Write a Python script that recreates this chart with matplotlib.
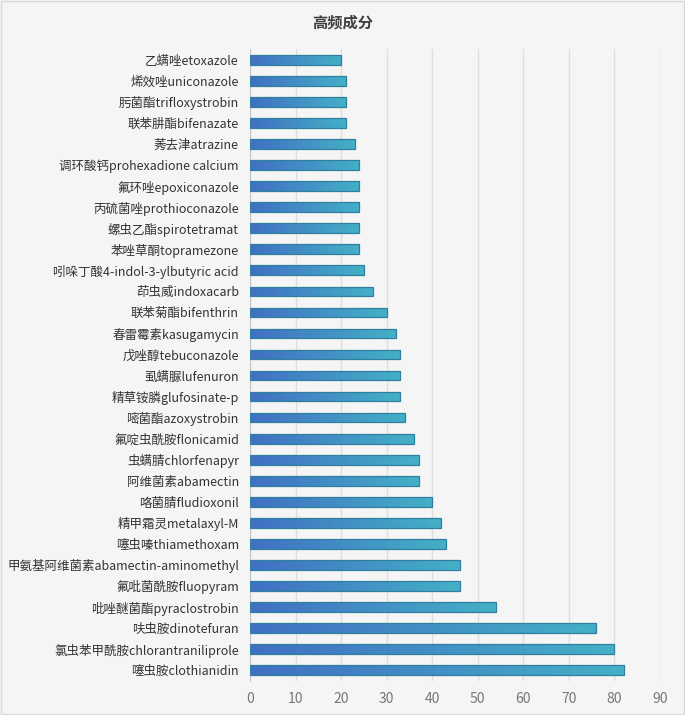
import numpy as np
import matplotlib
matplotlib.use("Agg")
import matplotlib.pyplot as plt
from matplotlib.colors import LinearSegmentedColormap
from matplotlib.patches import Rectangle

plt.rcParams['font.family'] = ['Noto Sans CJK SC', 'DejaVu Sans']

# top to bottom as shown in the chart
labels = [
    "乙螨唑etoxazole", "烯效唑uniconazole", "肟菌酯trifloxystrobin", "联苯肼酯bifenazate",
    "莠去津atrazine", "调环酸钙prohexadione calcium", "氟环唑epoxiconazole",
    "丙硫菌唑prothioconazole", "螺虫乙酯spirotetramat", "苯唑草酮topramezone",
    "吲哚丁酸4-indol-3-ylbutyric acid", "茚虫威indoxacarb", "联苯菊酯bifenthrin",
    "春雷霉素kasugamycin", "戊唑醇tebuconazole", "虱螨脲lufenuron",
    "精草铵膦glufosinate-p", "嘧菌酯azoxystrobin", "氟啶虫酰胺flonicamid",
    "虫螨腈chlorfenapyr", "阿维菌素abamectin", "咯菌腈fludioxonil",
    "精甲霜灵metalaxyl-M", "噻虫嗪thiamethoxam", "甲氨基阿维菌素abamectin-aminomethyl",
    "氟吡菌酰胺fluopyram", "吡唑醚菌酯pyraclostrobin", "呋虫胺dinotefuran",
    "氯虫苯甲酰胺chlorantraniliprole", "噻虫胺clothianidin",
]
values = [20, 21, 21, 21, 23, 24, 24, 24, 24, 24,
          25, 27, 30, 32, 33, 33, 33, 34, 36, 37,
          37, 40, 42, 43, 46, 46, 54, 76, 80, 82]
x_ticks = [0, 10, 20, 30, 40, 50, 60, 70, 80, 90]

bg = "#f5f5f5"
cmap = LinearSegmentedColormap.from_list("bar", ["#416fc3", "#44b0c7"])

fig = plt.figure(figsize=(6.85, 7.15), dpi=100, facecolor=bg)
fig.patches.append(Rectangle((0.002, 0.002), 0.996, 0.996, transform=fig.transFigure,
                             fill=False, edgecolor="#d9d9d9", linewidth=1))
ax = fig.add_axes([0.365, 0.048, 0.5985, 0.883])
ax.set_facecolor(bg)

y = np.arange(len(labels))
bars = ax.barh(y, values, height=0.46, facecolor="none", edgecolor="#2f7f9e",
               linewidth=0.9, zorder=3)
grad = np.linspace(0, 1, 256).reshape(1, -1)
for b in bars:
    x0, y0 = b.get_x(), b.get_y()
    w, h = b.get_width(), b.get_height()
    im = ax.imshow(grad, cmap=cmap, aspect="auto", extent=[x0, x0 + w, y0, y0 + h],
                   zorder=2, interpolation="bilinear")
    im.set_clip_path(b)

ax.set_xlim(0, 90)
ax.set_ylim(len(labels) - 0.5, -0.5)
ax.set_xticks(x_ticks)
ax.set_yticks(y)
ax.set_yticklabels(labels, fontsize=9, color="#333333")
ax.tick_params(axis="x", labelsize=10, colors="#777777", length=0, pad=8)
ax.tick_params(axis="y", length=0, pad=8)
ax.grid(axis="x", color="#dedede", linewidth=1, zorder=0)
for s in ["top", "right", "bottom"]:
    ax.spines[s].set_visible(False)
ax.spines["left"].set_color("#c8c8c8")

fig.text(0.5, 0.968, "高频成分", ha="center", va="center", fontsize=11,
         fontweight="bold", color="#404040")

fig.savefig("out.png", dpi=100, facecolor=bg)
